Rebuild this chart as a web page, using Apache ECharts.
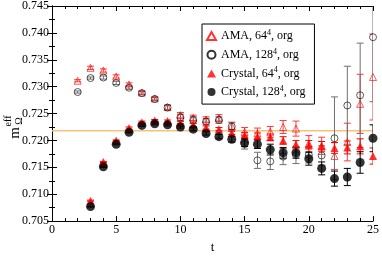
<!DOCTYPE html>
<html><head><meta charset="utf-8">
<script src="https://cdn.jsdelivr.net/npm/echarts@6/dist/echarts.min.js"></script>
<style>html,body{margin:0;padding:0;background:#fff}#c{width:382px;height:259px}</style>
</head><body><div id="c"></div>
<script>
var tAma = [2,3,4,5,6,7,8,9,10,11,12,13,14,15,16,17,18,19,20,21,22,23,24,25];
var ama64 = [0.7311,0.7335,0.7330,0.7319,0.7304,0.7289,0.7278,0.7262,0.7247,0.7242,0.7239,0.7242,0.7227,0.7216,0.7213,0.7216,0.7225,0.7222,0.7194,0.7190,0.7171,0.7197,0.7268,0.7318];
var ama64Err = [0.0002,0.0003,0.0003,0.0003,0.0003,0.0003,0.0003,0.0004,0.0005,0.0005,0.0005,0.0006,0.0007,0.0008,0.0010,0.0010,0.0012,0.0014,0.0015,0.0016,0.0025,0.0035,0.0055,0.0080];
var ama128 = [0.7290,0.7316,0.7317,0.7307,0.7298,0.7288,0.7277,0.7261,0.7243,0.7238,0.7235,0.7238,0.7226,0.7193,0.7163,0.7161,0.7170,0.7173,0.7173,0.7172,0.7204,0.7265,0.7284,0.7392];
var ama128Err = [0.0002,0.0002,0.0003,0.0003,0.0003,0.0003,0.0003,0.0004,0.0006,0.0006,0.0006,0.0006,0.0007,0.0009,0.0015,0.0015,0.0015,0.0016,0.0015,0.0018,0.0077,0.0073,0.0097,0.0120];
var tCrys = [3,4,5,6,7,8,9,10,11,12,13,14,15,16,17,18,19,20,21,22,23,24,25];
var crys64 = [0.7088,0.7160,0.7200,0.7223,0.7234,0.7237,0.7236,0.7233,0.7229,0.7224,0.7221,0.7214,0.7210,0.7208,0.7206,0.7200,0.7193,0.7192,0.7189,0.7186,0.7187,0.7189,0.7171];
var crys64Err = [0.0001,0.0001,0.0001,0.0002,0.0002,0.0002,0.0002,0.0002,0.0003,0.0003,0.0003,0.0003,0.0005,0.0006,0.0006,0.0007,0.0007,0.0008,0.0009,0.0010,0.0012,0.0014,0.0015];
var crys128 = [0.7077,0.7151,0.7193,0.7215,0.7228,0.7231,0.7229,0.7225,0.7221,0.7213,0.7207,0.7202,0.7196,0.7193,0.7183,0.7177,0.7177,0.7166,0.7148,0.7129,0.7132,0.7159,0.7204];
var crys128Err = [0.0001,0.0001,0.0001,0.0001,0.0002,0.0002,0.0002,0.0002,0.0003,0.0003,0.0004,0.0005,0.0007,0.0008,0.0010,0.0010,0.0010,0.0012,0.0012,0.0014,0.0016,0.0020,0.0025];
var plateau = 0.7218;
var legendNames = ['AMA, 64|4|, org','AMA, 128|4|, org','Crystal, 64|4|, org','Crystal, 128|4|, org'];
var yTicks = [0.705,0.745,0.005];
var xTicks = [0,25,5];

function pts(t, v){ return t.map(function(x,i){return [x, v[i]];}); }
function errs(t, v, e){ return t.map(function(x,i){return [x, v[i]-e[i], v[i]+e[i]];}); }
function errSeries(name, t, v, e, color){
  return {type:'custom', name:name, data:errs(t,v,e), clip:true, silent:true, z:2,
    encode:{x:0,y:[1,2]},
    renderItem:function(params, api){
      var x=api.value(0), lo=api.value(1), hi=api.value(2);
      var a=api.coord([x,hi]), b=api.coord([x,lo]); var w=3.5;
      var st={stroke:color, lineWidth:1};
      return {type:'group', children:[
        {type:'line', shape:{x1:a[0],y1:a[1],x2:b[0],y2:b[1]}, style:st},
        {type:'line', shape:{x1:a[0]-w,y1:a[1],x2:a[0]+w,y2:a[1]}, style:st},
        {type:'line', shape:{x1:b[0]-w,y1:b[1],x2:b[0]+w,y2:b[1]}, style:st}
      ]};
    }};
}
var serif = 'Liberation Serif';
var chart = echarts.init(document.getElementById('c'), null, {renderer:'canvas'});
var nm = legendNames.map(function(s){return s.replace(/\|/g,'');});
chart.setOption({
  animation:false,
  grid:{left:52, right:6, top:5, bottom:24},
  legend:{orient:'vertical', left:202, top:24,
    padding:[5,9,5,4], itemGap:4.7, itemWidth:9, itemHeight:8,
    borderColor:'#000', borderWidth:1, backgroundColor:'#fff',
    data:nm,
    formatter:function(n){ var i=nm.indexOf(n); var p=legendNames[i].split('|'); return p[0]+'{s|'+p[1]+'}'+p[2]; },
    textStyle:{fontFamily:serif, fontSize:12, color:'#000', lineHeight:14,
      rich:{s:{fontFamily:serif, fontSize:8, verticalAlign:'top', lineHeight:14}}}
  },
  xAxis:[
    {type:'value', min:xTicks[0], max:xTicks[1], interval:xTicks[2], position:'bottom',
     name:'t', nameLocation:'middle', nameGap:16, nameTextStyle:{fontFamily:serif, fontSize:13, color:'#000'},
     axisLine:{lineStyle:{color:'#000', width:1}}, splitLine:{show:false},
     axisTick:{inside:true, length:5, lineStyle:{color:'#000'}},
     minorTick:{show:true, splitNumber:5, length:3, lineStyle:{color:'#000'}},
     axisLabel:{margin:3, fontFamily:serif, fontSize:12, color:'#000'}},
    {type:'value', min:xTicks[0], max:xTicks[1], interval:xTicks[2], position:'top',
     axisLine:{show:true, lineStyle:{color:'#000', width:1}}, splitLine:{show:false},
     axisTick:{inside:true, length:5, lineStyle:{color:'#000'}},
     minorTick:{show:true, splitNumber:5, length:3, lineStyle:{color:'#000'}},
     axisLabel:{show:false}}
  ],
  yAxis:[
    {type:'value', min:yTicks[0], max:yTicks[1], interval:yTicks[2], position:'left',
     axisLine:{show:true, lineStyle:{color:'#000', width:1}}, splitLine:{show:false},
     axisTick:{inside:true, length:5, lineStyle:{color:'#000'}},
     minorTick:{show:true, splitNumber:2, length:3, lineStyle:{color:'#000'}},
     axisLabel:{margin:3, fontFamily:serif, fontSize:12, color:'#000', formatter:function(v){return v.toFixed(3);}}},
    {type:'value', min:yTicks[0], max:yTicks[1], interval:yTicks[2], position:'right',
     axisLine:{show:true, lineStyle:{color:'#000', width:1}}, splitLine:{show:false},
     axisTick:{inside:true, length:5, lineStyle:{color:'#000'}},
     minorTick:{show:true, splitNumber:2, length:3, lineStyle:{color:'#000'}},
     axisLabel:{show:false}}
  ],
  graphic:[
    {type:'text', x:15, y:133, rotation:Math.PI/2, style:{text:'m', fontFamily:serif, fontSize:15, fill:'#000', align:'center', verticalAlign:'middle'}},
    {type:'text', x:19, y:121, rotation:Math.PI/2, style:{text:'Ω', fontFamily:serif, fontSize:10, fill:'#000', align:'center', verticalAlign:'middle'}},
    {type:'text', x:8, y:121, rotation:Math.PI/2, style:{text:'eff', fontFamily:serif, fontSize:10, fill:'#000', align:'center', verticalAlign:'middle'}}
  ],
  series:[
    {type:'line', name:'plateau', data:[[xTicks[0],plateau],[xTicks[1],plateau]], symbol:'none', silent:true, z:1,
     lineStyle:{color:'#f5c27c', width:1.5}},
    errSeries('e1', tAma, ama64, ama64Err, '#ff3b3b'),
    {type:'scatter', name:nm[0], data:pts(tAma, ama64), symbol:'triangle', symbolSize:7, z:3,
     itemStyle:{color:'rgba(255,255,255,0)', borderColor:'#ff0000', borderWidth:0.8}},
    errSeries('e2', tAma, ama128, ama128Err, '#707070'),
    {type:'scatter', name:nm[1], data:pts(tAma, ama128), symbol:'circle', symbolSize:7, z:3,
     itemStyle:{color:'rgba(255,255,255,0)', borderColor:'#000', borderWidth:0.8}},
    errSeries('e3', tCrys, crys64, crys64Err, '#ff0000'),
    {type:'scatter', name:nm[2], data:pts(tCrys, crys64), symbol:'triangle', symbolSize:8, z:4,
     itemStyle:{color:'#ff0000'}},
    errSeries('e4', tCrys, crys128, crys128Err, '#000'),
    {type:'scatter', name:nm[3], data:pts(tCrys, crys128), symbol:'circle', symbolSize:9, z:5,
     itemStyle:{color:'#000'}}
  ]
});
</script></body></html>
